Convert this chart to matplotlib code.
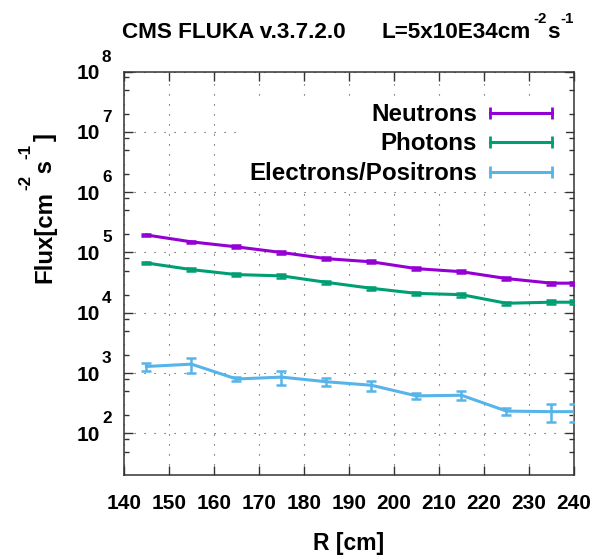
import numpy as np
import matplotlib
matplotlib.use("Agg")
import matplotlib.pyplot as plt
from matplotlib.lines import Line2D
from matplotlib.ticker import LogLocator, NullFormatter
from matplotlib.transforms import offset_copy

# data (R bin centres, flux and errors)
r_cm = [145, 155, 165, 175, 185, 195, 205, 215, 225, 235, 240]

neutrons = [1.95e5, 1.5e5, 1.24e5, 1.0e5, 7.9e4, 7.0e4, 5.4e4, 4.8e4, 3.7e4, 3.1e4, 3.1e4]
neutrons_err = [9e3, 8e3, 7e3, 5e3, 4e3, 4e3, 3e3, 3e3, 2e3, 2e3, 2e3]

photons = [6.7e4, 5.2e4, 4.3e4, 4.1e4, 3.2e4, 2.55e4, 2.1e4, 2.0e4, 1.44e4, 1.5e4, 1.5e4]
photons_err = [3e3, 2.5e3, 2e3, 3.5e3, 1.5e3, 1.2e3, 1.2e3, 1.5e3, 9e2, 1.2e3, 1.2e3]

electrons = [1.29e3, 1.41e3, 8.0e2, 8.6e2, 7.2e2, 6.3e2, 4.2e2, 4.3e2, 2.35e2, 2.3e2, 2.3e2]
electrons_err = [2e2, 4e2, 6e1, 2.2e2, 1.1e2, 1.2e2, 5e1, 7e1, 3e1, 7.5e1, 7.5e1]

names = ["Neutrons", "Photons", "Electrons/Positrons"]
colors = ["#9400d3", "#009e73", "#56b4e9"]
x_ticks = list(range(140, 241, 10))
y_decades = [2, 3, 4, 5, 6, 7, 8]

W, H, DPI = 597, 560, 100
plt.rcParams['font.family'] = ['Liberation Sans', 'DejaVu Sans']
plt.rcParams['font.weight'] = 'bold'

fig = plt.figure(figsize=(W / DPI, H / DPI), dpi=DPI)
ax = fig.add_axes([124 / W, 85 / H, 450 / W, 403.5 / H])

series = [(neutrons, neutrons_err), (photons, photons_err), (electrons, electrons_err)]
for (vals, errs), c in zip(series, colors):
    ax.errorbar(r_cm, vals, yerr=errs, color=c, lw=2.2, elinewidth=1.8,
                capsize=3.8, capthick=1.8, zorder=3)

ax.set_yscale('log')
ax.set_xlim(140, 240)
ax.set_ylim(20.5, 1e8)

ax.set_xticks(x_ticks)
ax.set_xticklabels([str(v) for v in x_ticks])
ax.set_yticks([10.0 ** k for k in y_decades])
ax.yaxis.set_minor_locator(LogLocator(base=10, subs=[2, 5, 8]))
ax.yaxis.set_minor_formatter(NullFormatter())
ax.tick_params(which='both', direction='in', top=True, right=True, color='#333333', width=1)
ax.tick_params(which='major', length=6.5)
ax.tick_params(which='minor', length=3.3)
ax.tick_params(axis='x', labelsize=15, pad=14)
ax.tick_params(axis='y', labelleft=False)
for lab in ax.get_xticklabels():
    lab.set_fontweight('bold')

for sp in ax.spines.values():
    sp.set_linewidth(1.1)
    sp.set_color('#333333')

ax.grid(True, which='major', color='#444444', lw=0.8, ls=(0, (1, 8)), zorder=1)

# gnuplot style 10^k labels
base_tr = ax.get_yaxis_transform()
for k in y_decades:
    ax.text(0, 10.0 ** k, '10', transform=offset_copy(base_tr, fig, x=-24, y=-7.5, units='dots'),
            ha='right', va='baseline', fontsize=15, fontweight='bold')
    ax.text(0, 10.0 ** k, str(k), transform=offset_copy(base_tr, fig, x=-22, y=10, units='dots'),
            ha='left', va='baseline', fontsize=12.3, fontweight='bold')

# legend: text on the left, error-bar sample on the right
handles = [Line2D([], [], color=c, lw=2.2, marker='|', markersize=9, mew=2) for c in colors]
leg = ax.legend(handles, names, loc='upper right', bbox_to_anchor=(0.983, 0.94),
                markerfirst=False, numpoints=2, handlelength=3.16, handletextpad=0.24,
                labelspacing=0.27, borderpad=0.3, borderaxespad=0, frameon=True,
                fancybox=False, framealpha=1, edgecolor='none', facecolor='white',
                prop={'weight': 'bold', 'size': 17.4})
leg.set_zorder(5)

rend = fig.canvas.get_renderer()


def chain(parts, x0, y0, rot=0):
    # put pieces of text one after another, in pixels from bottom-left
    pos = 0.0
    for s, size, up, gap in parts:
        pos += gap
        if rot == 0:
            px, py = x0 + pos, y0 + up
        else:
            px, py = x0 - up, y0 + pos
        t = fig.text(px / W, py / H, s, fontsize=size * 72 / DPI, fontweight='bold',
                     rotation=rot, rotation_mode='anchor', ha='left', va='baseline')
        bb = t.get_window_extent(rend)
        pos += bb.width if rot == 0 else bb.height


# title
chain([("CMS FLUKA v.3.7.2.0", 22.5, 0, 0)], 121.7, H - 38.3)
chain([("L=5x10E34cm", 22.5, 0, 0), ("-2", 15, 15, 2), ("s", 22.5, 0, 1), ("-1", 15, 15, 1)],
      381.7, H - 38.3)

# axis labels
chain([("Flux[cm", 24, 0, 0), ("-2", 17, 21, 1), (" s", 24, 0, -5), ("-1", 17, 21, 1), ("]", 24, 0, 3)],
      51.7, H - 283, rot=90)
fig.text(349 / W, 10 / H, "R [cm]", ha='center', va='baseline', fontsize=16.5, fontweight='bold')

fig.savefig('out.png', dpi=DPI)
